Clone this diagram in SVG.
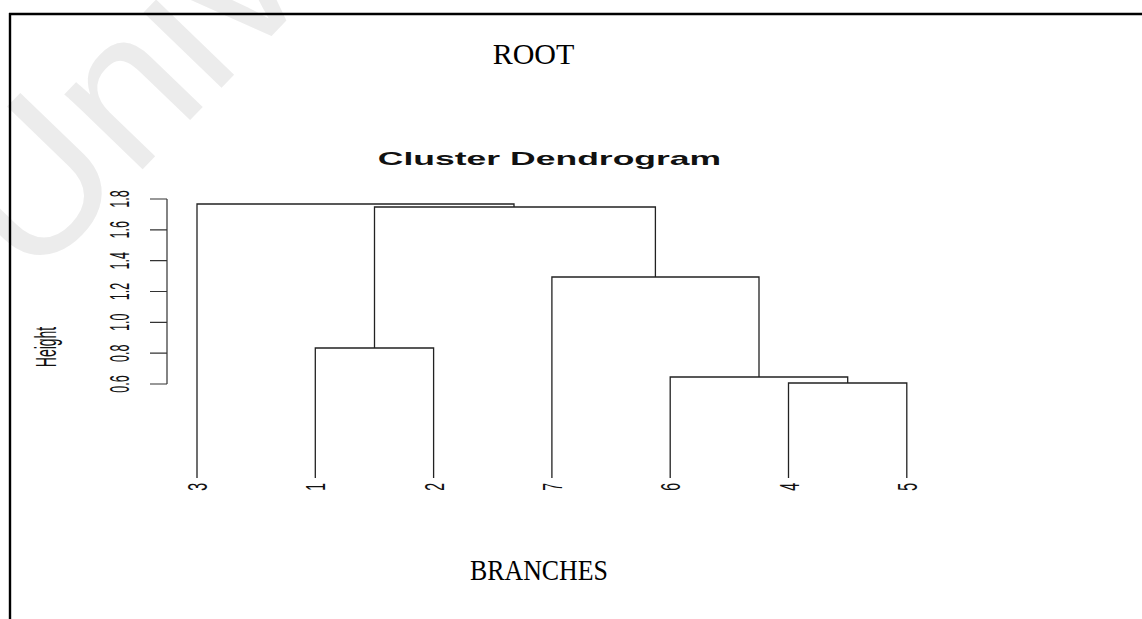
<svg xmlns="http://www.w3.org/2000/svg" width="1142" height="619" viewBox="0 0 1142 619">
<style>
.wm{font-family:"Liberation Sans",Arial,sans-serif;font-size:205px;fill:#ececec}
.frame{stroke:#000;stroke-width:2.4;fill:none}
.ax{stroke:#333;stroke-width:1.2;fill:none}
.den{stroke:#222;stroke-width:1.3;fill:none}
.lab{font-family:"Liberation Sans",Arial,sans-serif;fill:#111}
.leaf{font-family:"Liberation Sans",Arial,sans-serif;fill:#111;font-size:14px}
.serif{font-family:"Liberation Serif","Times New Roman",serif;font-size:30px;fill:#000}
</style>
<rect width="1142" height="619" fill="#fff"/>
<g id="watermark">
<text class="wm" transform="translate(30,286) rotate(-46)">Univ</text>
</g>
<g id="frame">
<path class="frame" d="M9 14 H1142 M10 13 V619"/>
</g>
<g id="root-label">
<text class="serif" x="533.5" y="64" text-anchor="middle" font-size="31">ROOT</text>
</g>
<g id="title">
<text class="lab" transform="translate(549.5,165) scale(1.91,1)" text-anchor="middle" font-size="18.6" font-weight="bold">Cluster Dendrogram</text>
</g>
<g id="y-axis">
<path class="ax" d="M167 199 V384 M150 199 H167 M150 229.8 H167 M150 260.7 H167 M150 291.5 H167 M150 322.3 H167 M150 353.2 H167 M150 384 H167"/>
<g class="lab" font-size="12.5" text-anchor="middle">
<text transform="translate(119,199) scale(2.2,1) rotate(-90)" dy="0.36em">1.8</text>
<text transform="translate(119,229.8) scale(2.2,1) rotate(-90)" dy="0.36em">1.6</text>
<text transform="translate(119,260.7) scale(2.2,1) rotate(-90)" dy="0.36em">1.4</text>
<text transform="translate(119,291.5) scale(2.2,1) rotate(-90)" dy="0.36em">1.2</text>
<text transform="translate(119,322.3) scale(2.2,1) rotate(-90)" dy="0.36em">1.0</text>
<text transform="translate(119,353.2) scale(2.2,1) rotate(-90)" dy="0.36em">0.8</text>
<text transform="translate(119,384) scale(2.2,1) rotate(-90)" dy="0.36em">0.6</text>
</g>
<text class="lab" font-size="14" text-anchor="middle" transform="translate(56,347) scale(2.05,1) rotate(-90)">Height</text>
</g>
<g id="connectors">
<path class="den" d="M315.3 478 V348 H433.6 V478"/>
<path class="den" d="M788.5 478 V383 H906.8 V478"/>
<path class="den" d="M670.2 478 V377 H847.7 V383"/>
<path class="den" d="M551.9 478 V277 H759 V377"/>
<path class="den" d="M374.5 348 V207 H655.4 V277"/>
<path class="den" d="M197 478 V204 H514 V207"/>
</g>
<g id="leaf-3"><text class="leaf" text-anchor="end" dy="0.36em" transform="translate(197,483) scale(2,1) rotate(-90)">3</text></g>
<g id="leaf-1"><text class="leaf" text-anchor="end" dy="0.36em" transform="translate(315.3,483) scale(2,1) rotate(-90)">1</text></g>
<g id="leaf-2"><text class="leaf" text-anchor="end" dy="0.36em" transform="translate(433.6,483) scale(2,1) rotate(-90)">2</text></g>
<g id="leaf-7"><text class="leaf" text-anchor="end" dy="0.36em" transform="translate(551.9,483) scale(2,1) rotate(-90)">7</text></g>
<g id="leaf-6"><text class="leaf" text-anchor="end" dy="0.36em" transform="translate(670.2,483) scale(2,1) rotate(-90)">6</text></g>
<g id="leaf-4"><text class="leaf" text-anchor="end" dy="0.36em" transform="translate(788.5,483) scale(2,1) rotate(-90)">4</text></g>
<g id="leaf-5"><text class="leaf" text-anchor="end" dy="0.36em" transform="translate(906.8,483) scale(2,1) rotate(-90)">5</text></g>
<g id="branches-label">
<text class="serif" x="539" y="580" text-anchor="middle" textLength="138" lengthAdjust="spacingAndGlyphs">BRANCHES</text>
</g>
</svg>
